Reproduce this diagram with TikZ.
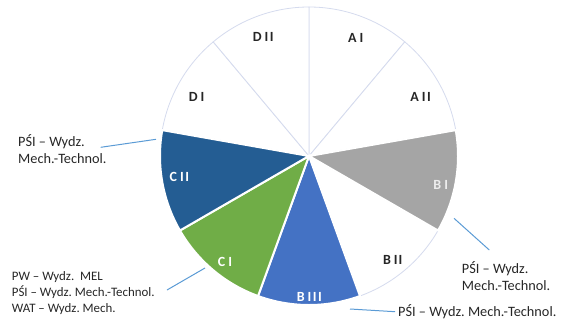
\documentclass[tikz,border=0pt]{standalone}
\usepackage{fontspec}
\setmainfont{Carlito}
\usepackage{xcolor}
\definecolor{darkslice}{HTML}{245D93}
\definecolor{greenslice}{HTML}{70AD47}
\definecolor{blueslice}{HTML}{4472C4}
\definecolor{grayslice}{HTML}{A5A5A5}
\definecolor{rimline}{HTML}{D5DBEE}
\definecolor{leadline}{HTML}{5B9BD5}
\definecolor{notetext}{HTML}{262626}
\frenchspacing

\begin{document}
\begin{tikzpicture}[x=1pt,y=1pt,
    slice/.style={draw=rimline,line width=0.8pt,fill=white},
    cslice/.style={draw=white,line width=2pt},
    seclab/.style={font=\fontsize{14}{16}\selectfont\bfseries,text=notetext},
    note/.style={font=\fontsize{14.3}{17}\selectfont,align=left,anchor=west,inner sep=0pt,text=notetext},
    leader/.style={draw=leadline,line width=1pt}]
    \useasboundingbox (0,0) rectangle (565,325);
    \coordinate (O) at (309,169);
    % white slices
    \foreach \a in {50,10,-70,130,90}
        \draw[slice] (O) -- ++(\a:149) arc[start angle=\a,delta angle=40,radius=149] -- cycle;
    % coloured slices
    \foreach \a/\c in {-30/grayslice,-110/blueslice,-150/greenslice,170/darkslice}
        \draw[cslice,fill=\c] (O) -- ++(\a:149) arc[start angle=\a,delta angle=40,radius=149] -- cycle;

    \node[seclab] (ai) at (355.7,286.7) {A\kern3pt I};
    \node[seclab] (aii) at (420.7,227.7) {A\kern3pt I\kern1.5pt I};
    \node[seclab] (dii) at (263.3,288.3) {D\kern3pt I\kern1.5pt I};
    \node[seclab] (di) at (196.7,228.3) {D\kern3pt I};
    \node[seclab,text=white] (cii) at (179.3,148.3) {C\kern3pt I\kern1.5pt I};
    \node[seclab,text=white] (ci) at (225,63.3) {C\kern3pt I};
    \node[seclab,text=white] (biii) at (309.3,28.3) {B\kern3pt I\kern1.5pt I\kern1.5pt I};
    \node[seclab] (bii) at (392.7,65) {B\kern3pt I\kern1pt I};
    \node[seclab,text=white!93!black] (bi) at (440.7,140) {B\kern3pt I};

    \node[note] (n1) at (18,176) {PŚI – Wydz.\\Mech.-Technol.};
    \node[note,font=\fontsize{12.9}{16.3}\selectfont] (n2) at (11.7,32) {PW – Wydz.\ \ MEL\\PŚI – Wydz. Mech.-Technol.\\WAT – Wydz. Mech.};
    \node[note] (n3) at (461.7,49) {PŚI – Wydz.\\Mech.-Technol.};
    \node[note] (n4) at (398,13.3) {PŚI – Wydz. Mech.-Technol.};

    % leader lines
    \coordinate (s1) at (100.7,177.7);
    \coordinate (e1) at (156,185.7);
    \coordinate (s2) at (167,35);
    \coordinate (e2) at (205,57);
    \coordinate (e3) at (454,106.7);
    \coordinate (s3) at (489.3,75);
    \coordinate (e4) at (350,16);
    \coordinate (s4) at (395,13.3);
    \draw[leader] (s1) -- (e1);
    \draw[leader] (s2) -- (e2);
    \draw[leader] (e3) -- (s3);
    \draw[leader] (e4) -- (s4);
\end{tikzpicture}
\end{document}
